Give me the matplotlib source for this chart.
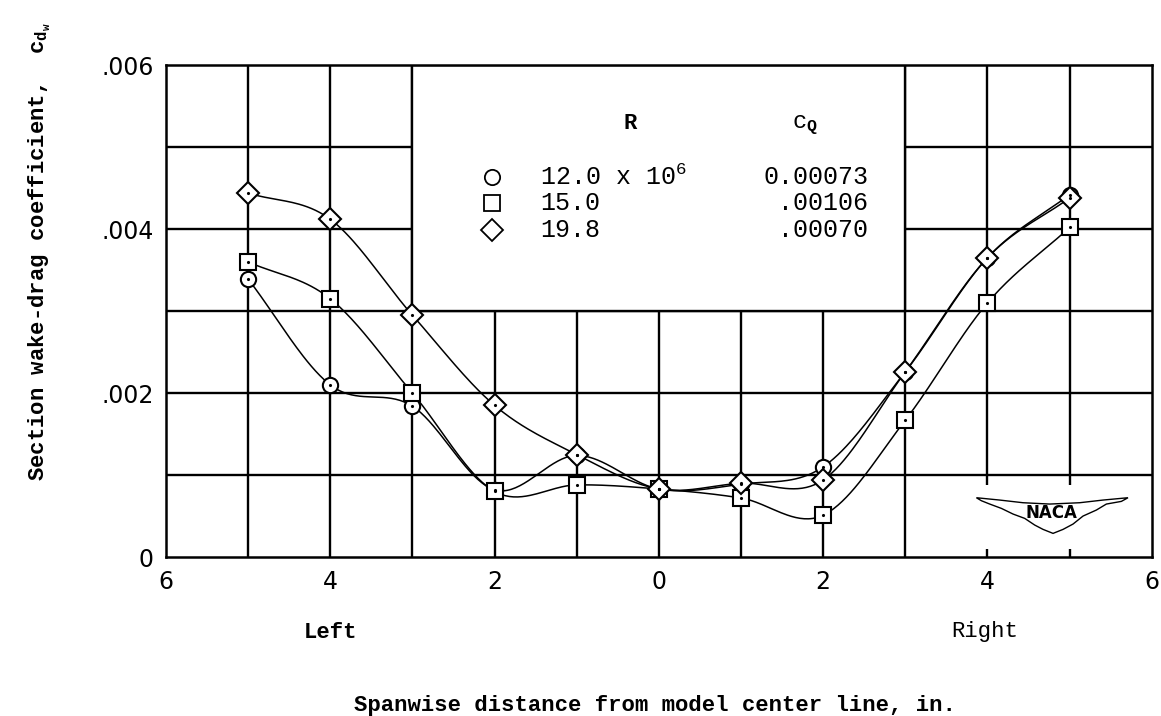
import numpy as np
import matplotlib
matplotlib.use('Agg')
import matplotlib.pyplot as plt
from matplotlib.patches import Rectangle, Polygon

plt.rcParams['font.family'] = ['Liberation Mono', 'DejaVu Sans Mono']
plt.rcParams['mathtext.fontset'] = 'custom'
plt.rcParams['mathtext.rm'] = 'Liberation Mono'
plt.rcParams['mathtext.it'] = 'Liberation Mono'
plt.rcParams['mathtext.bf'] = 'Liberation Mono:bold'

# spanwise stations (negative = left side)
x_pos = [-5, -4, -3, -2, -1, 0, 1, 2, 3, 4, 5]

# section wake-drag coefficient for each Reynolds number
cd_r12 = [0.00339, 0.00210, 0.00184, 0.00082, 0.00124, 0.00083, 0.00089, 0.00110, 0.00226, 0.00365, 0.00442]
cd_r15 = [0.00360, 0.00315, 0.00200, 0.00080, 0.00088, 0.00083, 0.00072, 0.00051, 0.00167, 0.00310, 0.00402]
cd_r198 = [0.00444, 0.00412, 0.00295, 0.00185, 0.00125, 0.00083, 0.00090, 0.00094, 0.00226, 0.00365, 0.00438]

r_labels = ['12.0 x 10$^{6}$', '15.0', '19.8']
cq_labels = ['0.00073', '.00106', '.00070']
markers = ['o', 's', 'D']

x_ticks = [-6, -4, -2, 0, 2, 4, 6]
x_ticklabels = ['6', '4', '2', '0', '2', '4', '6']
y_ticks = [0, 0.002, 0.004, 0.006]
y_ticklabels = ['0', '.002', '.004', '.006']


def smooth(xs, ys, n=40):
    # catmull-rom curve through the points
    P = np.column_stack([xs, ys]).astype(float)
    P = np.vstack([2 * P[0] - P[1], P, 2 * P[-1] - P[-2]])
    t = np.linspace(0, 1, n)[:, None]
    segs = []
    for i in range(1, len(P) - 2):
        p0, p1, p2, p3 = P[i - 1], P[i], P[i + 1], P[i + 2]
        seg = 0.5 * (2 * p1 + (-p0 + p2) * t + (2 * p0 - 5 * p1 + 4 * p2 - p3) * t ** 2
                     + (-p0 + 3 * p1 - 3 * p2 + p3) * t ** 3)
        segs.append(seg)
    s = np.vstack(segs)
    return s[:, 0], s[:, 1]


fig = plt.figure(figsize=(11.61, 7.16), dpi=100)
ax = fig.add_axes([0.143, 0.222, 0.849, 0.687])
ax.set_xlim(-6, 6)
ax.set_ylim(0, 0.006)

# grid
for gx in range(-5, 6):
    ax.axvline(gx, color='black', lw=1.7, zorder=1)
for gy in np.arange(0.001, 0.006, 0.001):
    ax.axhline(gy, color='black', lw=1.7, zorder=1)
for sp in ax.spines.values():
    sp.set_linewidth(1.8)

# blank key area
ax.add_patch(Rectangle((-3, 0.003), 6, 0.003, facecolor='white', edgecolor='black', lw=1.7, zorder=2))

# curves and points
for ys, m in zip([cd_r12, cd_r15, cd_r198], markers):
    sx, sy = smooth(x_pos, ys)
    ax.plot(sx, sy, color='black', lw=1.1, zorder=3)
    ax.plot(x_pos, ys, linestyle='none', marker=m, markersize=11, markerfacecolor='white',
            markeredgecolor='black', markeredgewidth=1.5, zorder=4)
    ax.plot(x_pos, ys, linestyle='none', marker='.', markersize=2.5, color='black', zorder=5)

# key
key_y = [0.00463, 0.00432, 0.00399]
for yk, m, rl, cl in zip(key_y, markers, r_labels, cq_labels):
    ax.plot([-2.03], [yk], linestyle='none', marker=m, markersize=11, markerfacecolor='white',
            markeredgecolor='black', markeredgewidth=1.3, zorder=4)
    ax.text(-1.45, yk, rl, fontsize=18, ha='left', va='center', zorder=5)
    ax.text(2.55, yk, cl, fontsize=18, ha='right', va='center', zorder=5)
ax.text(-0.35, 0.00529, 'R', fontsize=16, fontweight='bold', ha='center', va='center', zorder=5)
ax.text(1.62, 0.00527, 'c$_{\\mathbf{Q}}$', fontsize=17, ha='left', va='center', zorder=5)

# NACA logo
ax.add_patch(Rectangle((3.85, 0.0001), 1.9, 0.00078, facecolor='white', edgecolor='none', zorder=2))
wing_px = [(380, 503), (450, 510), (520, 518), (600, 522), (690, 518), (760, 510), (835, 503),
           (815, 514), (770, 522), (740, 540), (700, 558), (670, 582), (640, 598), (610, 610),
           (580, 598), (555, 585), (525, 565), (490, 552), (455, 535), (420, 522), (395, 512)]
wing = [((850 + X / 3 - 166) / 82.17 - 6, (557 - (330 + Y / 3)) / 82000) for X, Y in wing_px]
ax.add_patch(Polygon(wing, closed=True, facecolor='white', edgecolor='black', lw=1.0, zorder=3))
ax.text(4.78, 0.00054, 'NACA', family='DejaVu Sans', fontsize=12, fontweight='bold',
        ha='center', va='center', zorder=4)

ax.set_xticks(x_ticks)
ax.set_xticklabels(x_ticklabels, family='DejaVu Sans', fontsize=17)
ax.set_yticks(y_ticks)
ax.set_yticklabels(y_ticklabels, family='DejaVu Sans', fontsize=17)
ax.tick_params(length=0, pad=9)

fig.text(0.034, 0.648, 'Section wake-drag coefficient,  c$_{\\mathbf{d_w}}$', rotation=90,
         fontsize=16, fontweight='bold', ha='center', va='center')
fig.text(330 / 1161, 1 - 632 / 716, 'Left', fontsize=16, fontweight='bold', ha='center', va='center')
fig.text(985 / 1161, 1 - 632 / 716, 'Right', fontsize=16, ha='center', va='center')
fig.text(655 / 1161, 1 - 705 / 716, 'Spanwise distance from model center line, in.', fontsize=16,
         fontweight='bold', ha='center', va='center')

fig.savefig('out.png', dpi=100)
